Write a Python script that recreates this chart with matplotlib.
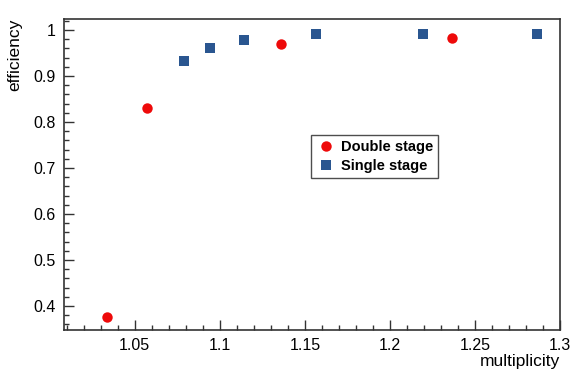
import numpy as np
import matplotlib.pyplot as plt
from matplotlib.ticker import MultipleLocator

plt.rcParams['font.family'] = ['Liberation Sans', 'DejaVu Sans']

# Double stage (red circles)
double_x = [1.0335, 1.057, 1.136, 1.2367]
double_y = [0.377, 0.831, 0.970, 0.983]

# Single stage (blue squares)
single_x = [1.079, 1.094, 1.114, 1.1565, 1.2192, 1.2865]
single_y = [0.933, 0.960, 0.979, 0.991, 0.991, 0.991]

fig = plt.figure(figsize=(5.8, 3.88), dpi=100)
ax = fig.add_axes([64 / 580, 1 - 330 / 388, (560 - 64) / 580, (330 - 19) / 388])

ax.plot(double_x, double_y, 'o', color='#ee0a0a', markersize=7.5,
        markeredgewidth=0, label='Double stage')
ax.plot(single_x, single_y, 's', color='#2a5690', markersize=7.5,
        markeredgewidth=0, label='Single stage')

ax.set_xlim(1.0084, 1.3)
ax.set_ylim(0.3478, 1.0239)

ax.xaxis.set_major_locator(MultipleLocator(0.05))
ax.xaxis.set_minor_locator(MultipleLocator(0.01))
ax.yaxis.set_major_locator(MultipleLocator(0.1))
ax.yaxis.set_minor_locator(MultipleLocator(0.02))
ax.set_xticks([1.05, 1.1, 1.15, 1.2, 1.25, 1.3])
ax.set_xticklabels(['1.05', '1.1', '1.15', '1.2', '1.25', '1.3'])
ax.set_yticks([0.4, 0.5, 0.6, 0.7, 0.8, 0.9, 1.0])
ax.set_yticklabels(['0.4', '0.5', '0.6', '0.7', '0.8', '0.9', '1'])

ax.tick_params(which='both', direction='in', top=False, right=False,
               labelsize=11.5, color='#333333', width=1.0)
ax.tick_params(which='major', length=7, pad=6)
ax.tick_params(which='minor', length=3.5)
for s in ax.spines.values():
    s.set_color('#333333')
    s.set_linewidth(1.2)

ax.set_ylabel('efficiency', fontsize=12.5)
ax.yaxis.set_label_coords(-42 / 496, 1.0)
ax.yaxis.label.set_ha('right')
ax.set_xlabel('multiplicity', fontsize=12.5)
ax.xaxis.set_label_coords(1.0, -0.078)
ax.xaxis.label.set_ha('right')

leg = ax.legend(loc='upper left', bbox_to_anchor=((311 - 64) / 496, 1 - (135 - 19) / 311),
                frameon=True, fancybox=False, edgecolor='#222222',
                prop={'weight': 'bold', 'size': 10.5}, handletextpad=0.3,
                borderpad=0.35, labelspacing=0.35, handlelength=1.4, borderaxespad=0)
leg.get_frame().set_linewidth(1.0)

fig.savefig('out.png', dpi=100)
